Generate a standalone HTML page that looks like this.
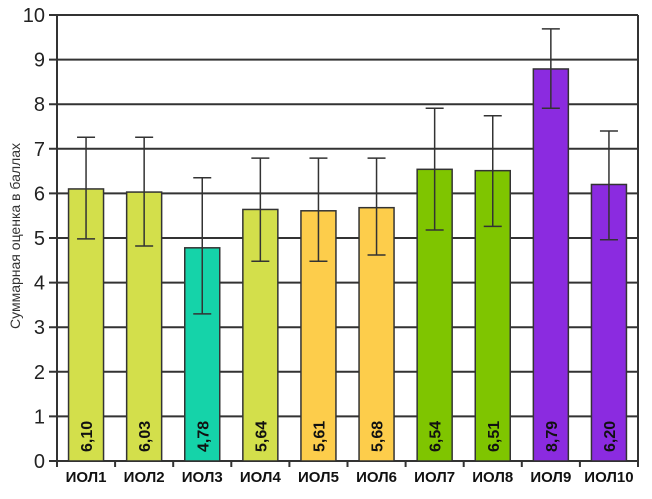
<!DOCTYPE html>
<html><head><meta charset="utf-8"><style>
body{margin:0;background:#fff;}
svg{display:block;font-family:"Liberation Sans",sans-serif;}
</style></head><body>
<svg id="chart" width="652" height="499" viewBox="0 0 652 499"></svg>
<script>
const categories=["ИОЛ1","ИОЛ2","ИОЛ3","ИОЛ4","ИОЛ5","ИОЛ6","ИОЛ7","ИОЛ8","ИОЛ9","ИОЛ10"];
const values=[6.10,6.03,4.78,5.64,5.61,5.68,6.54,6.51,8.79,6.20];
const valueLabels=["6,10","6,03","4,78","5,64","5,61","5,68","6,54","6,51","8,79","6,20"];
const errHigh=[7.26,7.26,6.35,6.79,6.79,6.79,7.91,7.74,9.69,7.40];
const errLow=[4.98,4.82,3.30,4.48,4.48,4.62,5.18,5.26,7.91,4.96];
const colors=["#d3df4b","#d3df4b","#15d3a9","#d3df4b","#fdcd4b","#fdcd4b","#7fc500","#7fc500","#8b2be0","#8b2be0"];
const yTicks=[0,1,2,3,4,5,6,7,8,9,10];
const NS="http://www.w3.org/2000/svg";
const svg=document.getElementById('chart');
const X0=57,X1=638,Y0=461,Y1=15;
const band=(X1-X0)/categories.length;
const y=v=>Y0-(v/10)*(Y0-Y1);
const xc=i=>X0+band*(i+0.5);
function mk(t,a){const e=document.createElementNS(NS,t);for(const k in a)e.setAttribute(k,a[k]);svg.appendChild(e);return e;}
yTicks.forEach(t=>{
  const l=mk('line',{x1:X0-8,x2:X1,y1:y(t),y2:y(t),stroke:'#333','stroke-width':2});
  
  
  const tx=mk('text',{x:X0-12,y:y(t)+7,'text-anchor':'end','font-size':20,fill:'#222'});
  tx.textContent=t;
  
  
});
const ax=mk('line',{x1:X0,x2:X0,y1:Y1,y2:Y0+5,stroke:'#333','stroke-width':2});


const ar=mk('line',{x1:X1,x2:X1,y1:Y1,y2:Y0,stroke:'#333','stroke-width':2});


for(let i=0;i<=categories.length;i++){
  const t=mk('line',{x1:X0+band*i,x2:X0+band*i,y1:Y0,y2:Y0+6,stroke:'#333','stroke-width':2});
  
  
}
categories.forEach((c,i)=>{
  const w=35,cx=xc(i);
  const r=mk('rect',{x:cx-w/2,y:y(values[i]),width:w,height:Y0-y(values[i]),fill:colors[i],stroke:'#333','stroke-width':1.5});
  
  
  const e=mk('path',{d:`M${cx-9},${y(errHigh[i])}H${cx+9}M${cx},${y(errHigh[i])}V${y(errLow[i])}M${cx-9},${y(errLow[i])}H${cx+9}`,stroke:'#333','stroke-width':1.5,fill:'none'});
  
  
  const vl=mk('text',{x:0,y:0,transform:`translate(${cx+6},${Y0-9}) rotate(-90)`,'font-size':16,'font-weight':'bold',fill:'#111'});
  vl.textContent=valueLabels[i];
  
  
  const xl=mk('text',{x:cx,y:Y0+21,'text-anchor':'middle','font-size':15,'font-weight':'bold',fill:'#111'});
  xl.textContent=c;
  
  
});
const yt=mk('text',{x:0,y:0,transform:`translate(20,236) rotate(-90)`,'text-anchor':'middle','font-size':14,fill:'#333'});
yt.textContent='Суммарная оценка в баллах';


</script>
</body></html>
